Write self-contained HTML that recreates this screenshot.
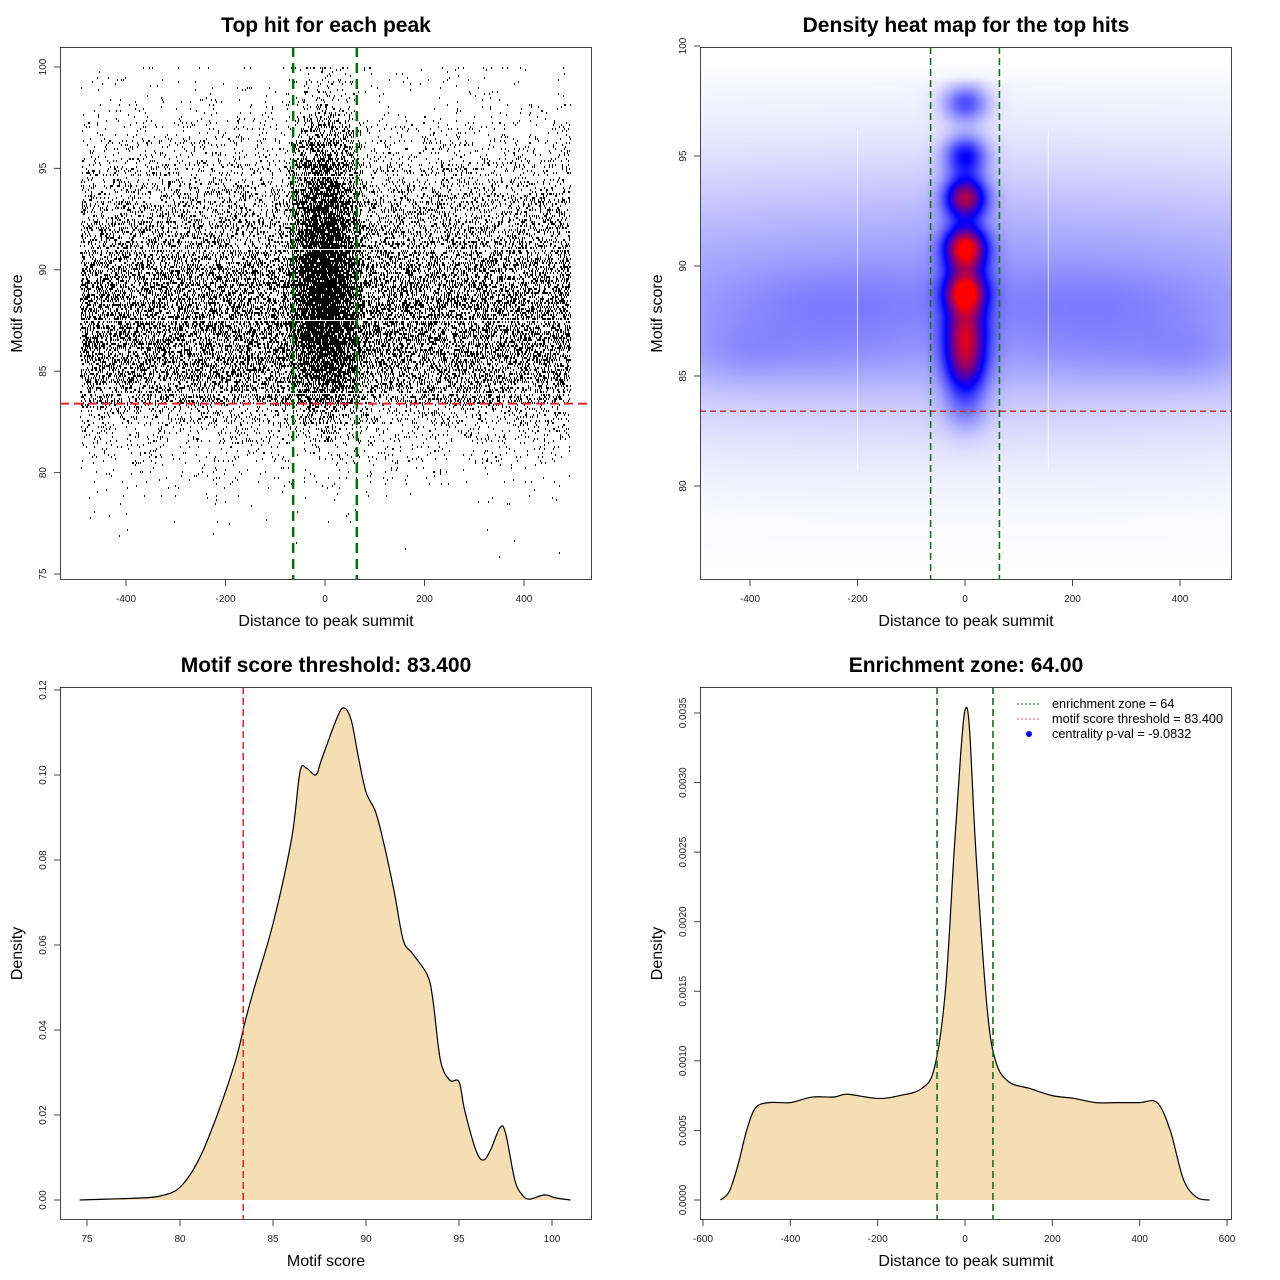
<!DOCTYPE html>
<html><head><meta charset="utf-8">
<style>
html,body{margin:0;padding:0;background:#fff;}
body{width:1280px;height:1280px;overflow:hidden;position:relative;font-family:"Liberation Sans",sans-serif;}
svg{position:absolute;left:0;top:0;}
canvas{position:absolute;}
</style></head>
<body>
<canvas id="heat" width="532" height="533" style="left:700px;top:47px;"></canvas>
<svg id="main" width="1280" height="1280"></svg>
<script>
// ---------- DATA ----------
// Panel 1 scatter: dot counts per integer motif score bin
const scoreBins = [76,77,78,79,80,81,82,83,84,85,86,87,88,89,90,91,92,93,94,95,96,97,98,99,100];
const bgCounts  = [3,6,15,45,120,240,420,750,1900,2250,2600,2750,2750,2550,2200,1850,1500,1200,900,650,440,270,130,70,40];
const centCounts= [0,0,0,0,0,10,40,110,260,450,650,780,880,950,950,850,720,600,500,400,250,160,85,50,30];
// Panel 2 heatmap blobs: [distance, score, sigmaDist, sigmaScore, weight]
const heatDist  = [0,0,0,0,0,0,0,0, 0,-250,250,-300,300,0,-420,420];
const heatScore = [97.4,95,93.1,90.8,88.8,87,85.6,84, 88.2,88.2,88.2,86,86,91,86,86];
const heatSD    = [30,27,27,27,27,27,27,28, 900,160,160,160,160,900,60,60];
const heatSS    = [0.6,0.65,0.65,0.7,0.7,0.8,0.8,1.0, 4.2,1.2,1.2,1.0,1.0,4,1,1];
const heatW     = [0.32,0.42,0.72,0.88,0.86,0.57,0.47,0.2, 0.17,0.06,0.06,0.05,0.05,0.04,0.03,0.03];
// Panel 3 density of motif score
const scoreX = [74.6,76,78,79,80,81,82,83,83.5,84,85,86,86.45,86.8,87.3,87.6,88.4,88.8,89.2,89.6,90,90.5,90.9,91.5,92,92.5,93.3,93.6,94,94.5,95,95.3,95.9,96.3,96.7,97.2,97.5,98,98.4,98.8,99.6,100.2,101];
const scoreY = [0,0.0002,0.0005,0.001,0.003,0.0094,0.02,0.033,0.042,0.05,0.065,0.085,0.1007,0.1016,0.1,0.1035,0.113,0.1158,0.113,0.104,0.096,0.0915,0.085,0.0729,0.0612,0.058,0.0529,0.047,0.0329,0.0282,0.0278,0.0212,0.0118,0.0094,0.0118,0.017,0.0158,0.0047,0.0012,0.0002,0.0012,0.0005,0];
// Panel 4 density of distance
const distX = [-560,-540,-520,-500,-480,-450,-400,-350,-300,-270,-200,-150,-100,-70,-45,-25,-10,0,10,25,50,70,100,150,200,250,300,350,400,440,470,500,530,560];
const distY = [0,0.00006,0.00025,0.0005,0.00066,0.0007,0.0007,0.00074,0.00074,0.00076,0.00073,0.00075,0.0008,0.00095,0.0015,0.0025,0.0032,0.00352,0.0034,0.0025,0.0014,0.001,0.00085,0.0008,0.00075,0.00073,0.0007,0.0007,0.0007,0.0007,0.0005,0.00015,0.00002,0];
// Ticks
const p1XTicks=[-400,-200,0,200,400], p1YTicks=[75,80,85,90,95,100];
const p2XTicks=[-400,-200,0,200,400], p2YTicks=[80,85,90,95,100];
const p3XTicks=[75,80,85,90,95,100], p3YTicks=[0,0.02,0.04,0.06,0.08,0.10,0.12];
const p3YLabels=["0.00","0.02","0.04","0.06","0.08","0.10","0.12"];
const p4XTicks=[-600,-400,-200,0,200,400,600], p4YTicks=[0,0.0005,0.001,0.0015,0.002,0.0025,0.003,0.0035];
const p4YLabels=["0.0000","0.0005","0.0010","0.0015","0.0020","0.0025","0.0030","0.0035"];
const threshold=83.4, zone=64;

// ---------- HELPERS ----------
const NS="http://www.w3.org/2000/svg";
const svg=document.getElementById('main');
function mk(tag,attrs,parent){const e=document.createElementNS(NS,tag);for(const k in attrs)e.setAttribute(k,attrs[k]);(parent||svg).appendChild(e);return e;}
function lin(d0,d1,r0,r1){return v=>r0+(v-d0)*(r1-r0)/(d1-d0);}
function text(x,y,s,opt,parent){const t=mk('text',Object.assign({x:x,y:y,'font-family':'Liberation Sans, sans-serif','text-anchor':'middle'},opt||{}),parent);t.textContent=s;return t;}
function axes(g,box,xs,ys,xt,yt,yl,xlab,ylab,title){
  mk('rect',{x:box.l+0.5,y:box.t+0.5,width:box.r-box.l-1,height:box.b-box.t-1,fill:'none',stroke:'#444','stroke-width':1},g);
  const xa=mk('g',{},g);
  xt.forEach(v=>{const x=xs(v);mk('line',{x1:x,x2:x,y1:box.b,y2:box.b+6,stroke:'#444'},xa);
    text(x,box.b+22,String(v),{'font-size':10,fill:'#222'},xa);});
  const ya=mk('g',{},g);
  yt.forEach((v,i)=>{const y=ys(v);mk('line',{x1:box.l-6,x2:box.l,y1:y,y2:y,stroke:'#444'},ya);
    const lx=box.l-14;text(lx,y,yl?yl[i]:String(v),{'font-size':10,fill:'#222',transform:'rotate(-90 '+lx+' '+y+')'},ya);});
  const xl=text((box.l+box.r)/2,box.b+46,xlab,{'font-size':16,fill:'#000'},g);
  const yx=box.l-38,yy=(box.t+box.b)/2;
  const yL=text(yx,yy,ylab,{'font-size':16,fill:'#000',transform:'rotate(-90 '+yx+' '+yy+')'},g);
  const tt=text((box.l+box.r)/2,box.t-15,title,{'font-size':21,'font-weight':'bold',fill:'#000'},g);
}
function smoothPath(px,py){let d='M'+px[0]+','+py[0];
  for(let i=0;i<px.length-1;i++){const x0=px[Math.max(i-1,0)],y0=py[Math.max(i-1,0)],x1=px[i],y1=py[i],x2=px[i+1],y2=py[i+1],x3=px[Math.min(i+2,px.length-1)],y3=py[Math.min(i+2,px.length-1)];
    d+=' C'+(x1+(x2-x0)/6)+','+(y1+(y2-y0)/6)+' '+(x2-(x3-x1)/6)+','+(y2-(y3-y1)/6)+' '+x2+','+y2;}
  return d;}
// deterministic scatter placement within a bin (hash-based layout, not data)
function h(n,s){let x=(n*374761393+s*668265263)|0;x=(x^(x>>>13))*1274126177|0;x=x^(x>>>16);return (x>>>0)/4294967296;}

// ---------- PANEL 1 ----------
(function(){
  const g=mk('g',{});
  const box={l:60,r:592,t:47,b:580};
  const xs=lin(0,400,325,524), ys=lin(100,75,67,574);
  let d='';let n=0;
  function dot(dist,sc){d+='M'+Math.round(xs(dist))+','+Math.round(ys(sc))+'h1v2h-1z';}
  scoreBins.forEach((s,i)=>{
    for(let k=0;k<bgCounts[i];k++){n++;
      let sc=s-0.5+Math.floor(h(n,2)*10)/10;if(sc>100)sc=100;
      dot(-492+984*h(n,1),sc);}
    for(let k=0;k<centCounts[i];k++){n++;
      let sc=s-0.5+Math.floor(h(n,5)*10)/10;if(sc>100)sc=100;
      dot((h(n,3)+h(n,4)-1)*80,sc);}
  });
  const p=mk('path',{d:d,fill:'#000','shape-rendering':'crispEdges'},g);
  const th=mk('line',{x1:box.l,x2:box.r,y1:ys(threshold),y2:ys(threshold),stroke:'#e0252a','stroke-width':2,'stroke-dasharray':'9,5'},g);
  
  [-zone,zone].forEach(z=>{const l=mk('line',{x1:xs(z),x2:xs(z),y1:box.t,y2:box.b,stroke:'#0b6b0b','stroke-width':2.5,'stroke-dasharray':'10,6'},g);
    });
  axes(g,box,xs,ys,p1XTicks,p1YTicks,null,'Distance to peak summit','Motif score','Top hit for each peak');
})();

// ---------- PANEL 2 ----------
(function(){
  const g=mk('g',{});
  const box={l:700,r:1232,t:47,b:580};
  const xs=lin(0,400,965,1180), ys=lin(90,80,266,486);
  const cv=document.getElementById('heat'),ctx=cv.getContext('2d');
  const W=532,H=533,img=ctx.createImageData(W,H);
  for(let py=0;py<H;py++){const sc=90-(py+box.t-266)/22.05;
    for(let px=0;px<W;px++){const ds=(px+box.l-965)/0.5375;
      let t=0;
      for(let b=0;b<heatW.length;b++){const a=(ds-heatDist[b])/heatSD[b],c=(sc-heatScore[b])/heatSS[b];t+=heatW[b]*Math.exp(-0.5*(a*a+c*c));}
      if(Math.abs(ds)>505)t*=Math.exp(-(Math.abs(ds)-505)/15);
      if(sc>98.3)t*=Math.exp(-(sc-98.3)/0.6);
      t=Math.min(t,1);let r,gg,bb;
      if(t<0.5){const q=t*2;r=255*(1-q);gg=255*(1-q);bb=255;}else{const q=(t-0.5)*2;r=255*q;gg=0;bb=255*(1-q);}
      const o=(py*W+px)*4;img.data[o]=r;img.data[o+1]=gg;img.data[o+2]=bb;img.data[o+3]=255;}}
  ctx.putImageData(img,0,0);
  [-200,155].forEach(v=>{const l=mk('line',{x1:xs(v),x2:xs(v),y1:130,y2:470,stroke:'#fff','stroke-width':1,'stroke-opacity':0.7},g);});
  const th=mk('line',{x1:box.l,x2:box.r,y1:ys(threshold),y2:ys(threshold),stroke:'#c0282a','stroke-width':1.3,'stroke-dasharray':'6,4'},g);
  
  [-zone,zone].forEach(z=>{const l=mk('line',{x1:xs(z),x2:xs(z),y1:box.t,y2:box.b,stroke:'#1f6e1f','stroke-width':1.6,'stroke-dasharray':'7,4'},g);
    });
  axes(g,box,xs,ys,p2XTicks,p2YTicks,null,'Distance to peak summit','Motif score','Density heat map for the top hits');
})();

// ---------- PANEL 3 ----------
(function(){
  const g=mk('g',{});
  const box={l:60,r:592,t:687,b:1220};
  const xs=lin(75,100,87,552), ys=lin(0,0.12,1200,690);
  const px=scoreX.map(xs),py=scoreY.map(ys);
  const d=smoothPath(px,py);
  const a=mk('path',{d:d+' L'+px[px.length-1]+','+ys(0)+' L'+px[0]+','+ys(0)+'Z',fill:'#f5deb3',stroke:'none'},g);
  
  const l=mk('path',{d:d,fill:'none',stroke:'#000','stroke-width':1.2},g);
  const th=mk('line',{x1:xs(threshold),x2:xs(threshold),y1:box.t,y2:box.b,stroke:'#d9262c','stroke-width':1.5,'stroke-dasharray':'7,4'},g);
  
  axes(g,box,xs,ys,p3XTicks,p3YTicks,p3YLabels,'Motif score','Density','Motif score threshold: 83.400');
})();

// ---------- PANEL 4 ----------
(function(){
  const g=mk('g',{});
  const box={l:700,r:1232,t:687,b:1220};
  const xs=lin(0,600,965,1227), ys=lin(0,0.0035,1200,713);
  const px=distX.map(xs),py=distY.map(ys);
  const d=smoothPath(px,py);
  const a=mk('path',{d:d+' L'+px[px.length-1]+','+ys(0)+' L'+px[0]+','+ys(0)+'Z',fill:'#f5deb3',stroke:'none'},g);
  
  const l=mk('path',{d:d,fill:'none',stroke:'#000','stroke-width':1.2},g);
  [-zone,zone].forEach(z=>{const v=mk('line',{x1:xs(z),x2:xs(z),y1:box.t,y2:box.b,stroke:'#1f6e1f','stroke-width':1.6,'stroke-dasharray':'7,4'},g);
    });
  axes(g,box,xs,ys,p4XTicks,p4YTicks,p4YLabels,'Distance to peak summit','Density','Enrichment zone: 64.00');
  const lg=mk('g',{},g);
  const e1=mk('g',{},lg);
  mk('line',{x1:1017,x2:1041,y1:704,y2:704,stroke:'#1f6e1f','stroke-width':1,'stroke-dasharray':'2,2'},e1);
  text(1052,708,'enrichment zone = 64',{'font-size':12.7,'text-anchor':'start'},e1);
  const e2=mk('g',{},lg);
  mk('line',{x1:1017,x2:1041,y1:719,y2:719,stroke:'#e05050','stroke-width':1,'stroke-dasharray':'2,2'},e2);
  text(1052,723,'motif score threshold = 83.400',{'font-size':12.7,'text-anchor':'start'},e2);
  const e3=mk('g',{},lg);
  mk('circle',{cx:1029,cy:734,r:3,fill:'#0000ff'},e3);
  text(1052,738,'centrality p-val = -9.0832',{'font-size':12.7,'text-anchor':'start'},e3);
})();
</script>
</body></html>
